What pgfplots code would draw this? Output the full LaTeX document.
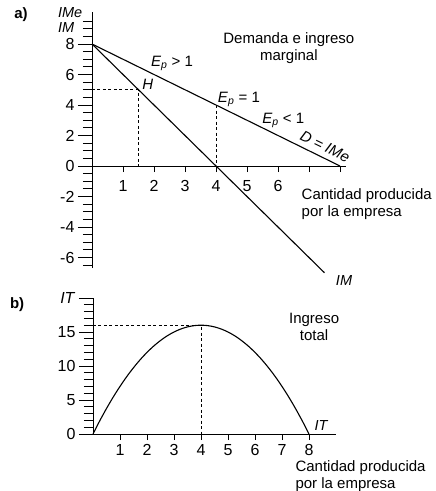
\documentclass[border=0pt]{standalone}
\usepackage{fontspec}
\setmainfont{Liberation Sans}
\usepackage{pgfplots}
\pgfplotsset{compat=1.18}

\pgfplotsset{
  econ/.style={
    scale only axis, clip=false,
    axis line style={-, line width=0.9pt},
    major tick length=14pt, minor tick length=9pt,
    xtick style={black, line width=0.9pt, /pgfplots/major tick length=6pt},
    ytick style={black, line width=0.9pt},
    minor tick style={black, line width=0.9pt},
    hide obscured x ticks=false, hide obscured y ticks=false,
    /pgf/number format/assume math mode=true,
    tick label style={font=\fontsize{16}{18}\selectfont},
  },
  outticks/.style={xtick align=outside, ytick align=outside},
  curve/.style={black, line width=1.1pt, no markers},
  guide/.style={black, line width=0.9pt, dash pattern=on 3pt off 2.5pt, no markers},
}

\begin{document}
\begin{tikzpicture}[font=\fontsize{15}{17}\selectfont]
\useasboundingbox (-92pt,166pt) rectangle (344pt,-325pt);

% a) demand (average revenue) and marginal revenue
\begin{axis}[econ,
  at={(0pt,0pt)}, anchor=origin,
  width=254.2pt, height=256.2pt,
  xmin=0, xmax=8.2, ymin=-6.7, ymax=10.1,
  axis x line*=middle, axis y line*=left,
  outticks,
  xtick={1,...,8}, xticklabels={1,2,3,4,5,6,{},{}},
  xticklabel style={yshift=3pt},
  ytick={-6,-4,...,8}, yticklabels={-6,-4,-2,0,2,4,6,8},
  minor ytick={-6.5,-6,...,9.5},
]
\addplot[curve] coordinates {(0,8) (8,0)};
\addplot[curve] coordinates {(0,8) (7.5,-7)};
\addplot[guide] coordinates {(0,5) (1.5,5) (1.5,0)};
\addplot[guide] coordinates {(4,4) (4,0)};

\node[font=\fontsize{15}{17}\selectfont\bfseries] at (axis cs:-2.29,9.9) {a)};
\node[anchor=west, align=left, font=\fontsize{14.5}{15}\selectfont\itshape] at (axis cs:-1.21,9.55) {IMe\\IM};
\node at (axis cs:2.58,6.72) {\textit{E}\textsubscript{\textit{p}} > 1};
\node at (axis cs:1.80,5.33) {\textit{H}};
\node at (axis cs:4.74,4.36) {\textit{E}\textsubscript{\textit{p}} = 1};
\node at (axis cs:6.17,2.98) {\textit{E}\textsubscript{\textit{p}} < 1};
\node[rotate=-26, inner sep=1pt] at (axis cs:7.52,1.28) {\textit{D} = \textit{IMe}};
\node[align=center] at (axis cs:6.35,7.74) {Demanda e ingreso\\marginal};
\node[anchor=north west, align=left] at (axis cs:6.65,-1.25) {Cantidad producida\\por la empresa};
\node[font=\fontsize{14.5}{15}\selectfont\itshape] at (axis cs:8.13,-7.54) {IM};
\end{axis}

% b) total revenue
\begin{axis}[econ,
  at={(1pt,-268pt)}, anchor=origin,
  width=243pt, height=136pt,
  xmin=0, xmax=9, ymin=0, ymax=20,
  axis lines*=left,
  outticks,
  xtick={1,...,8},
  xticklabel style={yshift=7pt},
  ytick={0,5,10,15,20}, yticklabels={0,5,10,15,\textit{IT}},
  minor ytick={1,...,19},
]
\addplot[curve, smooth] coordinates {
  (0,0) (0.25,1.94) (0.5,3.75) (0.75,5.44) (1,7) (1.25,8.44) (1.5,9.75)
  (1.75,10.94) (2,12) (2.25,12.94) (2.5,13.75) (2.75,14.44) (3,15)
  (3.25,15.44) (3.5,15.75) (3.75,15.94) (4,16) (4.25,15.94) (4.5,15.75)
  (4.75,15.44) (5,15) (5.25,14.44) (5.5,13.75) (5.75,12.94) (6,12)
  (6.25,10.94) (6.5,9.75) (6.75,8.44) (7,7) (7.25,5.44) (7.5,3.75)
  (7.75,1.94) (8,0)};
\addplot[guide] coordinates {(0,16) (4,16) (4,0)};

\node[font=\fontsize{15}{17}\selectfont\bfseries] at (axis cs:-2.81,19.0) {b)};
\node[align=center] at (axis cs:8.19,15.7) {Ingreso\\total};
\node[font=\fontsize{14.5}{15}\selectfont\itshape] at (axis cs:8.45,1.2) {IT};
\node[anchor=north west, align=left] at (axis cs:7.37,-3.4) {Cantidad producida\\por la empresa};
\end{axis}
\end{tikzpicture}
\end{document}
